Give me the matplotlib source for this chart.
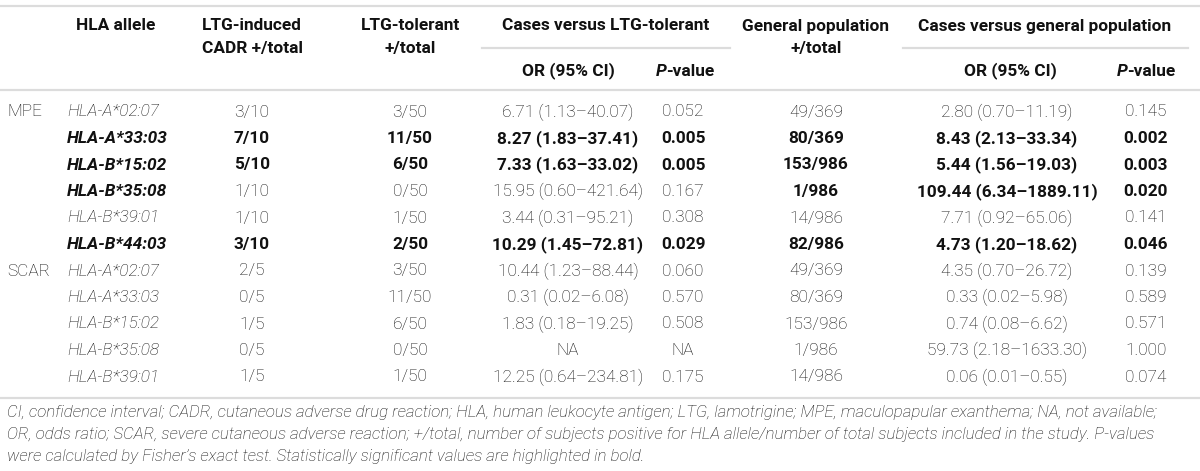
import matplotlib
matplotlib.use("Agg")
import matplotlib.pyplot as plt

plt.rcParams['font.family'] = ['Roboto', 'DejaVu Sans']

# ---- table data ----
groups = ["MPE", "", "", "", "", "", "SCAR", "", "", "", ""]
alleles = ["HLA-A*02:07", "HLA-A*33:03", "HLA-B*15:02", "HLA-B*35:08", "HLA-B*39:01", "HLA-B*44:03",
           "HLA-A*02:07", "HLA-A*33:03", "HLA-B*15:02", "HLA-B*35:08", "HLA-B*39:01"]
cadr = ["3/10", "7/10", "5/10", "1/10", "1/10", "3/10", "2/5", "0/5", "1/5", "0/5", "1/5"]
tolerant = ["3/50", "11/50", "6/50", "0/50", "1/50", "2/50", "3/50", "11/50", "6/50", "0/50", "1/50"]
or_tol = ["6.71 (1.13–40.07)", "8.27 (1.83–37.41)", "7.33 (1.63–33.02)", "15.95 (0.60–421.64)",
          "3.44 (0.31–95.21)", "10.29 (1.45–72.81)", "10.44 (1.23–88.44)", "0.31 (0.02–6.08)",
          "1.83 (0.18–19.25)", "NA", "12.25 (0.64–234.81)"]
p_tol = ["0.052", "0.005", "0.005", "0.167", "0.308", "0.029", "0.060", "0.570", "0.508", "NA", "0.175"]
gen_pop = ["49/369", "80/369", "153/986", "1/986", "14/986", "82/986",
           "49/369", "80/369", "153/986", "1/986", "14/986"]
or_gen = ["2.80 (0.70–11.19)", "8.43 (2.13–33.34)", "5.44 (1.56–19.03)", "109.44 (6.34–1889.11)",
          "7.71 (0.92–65.06)", "4.73 (1.20–18.62)", "4.35 (0.70–26.72)", "0.33 (0.02–5.98)",
          "0.74 (0.08–6.62)", "59.73 (2.18–1633.30)", "0.06 (0.01–0.55)"]
p_gen = ["0.145", "0.002", "0.003", "0.020", "0.141", "0.046", "0.139", "0.589", "0.571", "1.000", "0.074"]

# bold cells (allele, cadr, tolerant, or_tol, p_tol, gen_pop, or_gen, p_gen)
bold = [
    [0, 0, 0, 0, 0, 0, 0, 0],
    [1, 1, 1, 1, 1, 1, 1, 1],
    [1, 1, 1, 1, 1, 1, 1, 1],
    [1, 0, 0, 0, 0, 1, 1, 1],
    [0, 0, 0, 0, 0, 0, 0, 0],
    [1, 1, 1, 1, 1, 1, 1, 1],
    [0, 0, 0, 0, 0, 0, 0, 0],
    [0, 0, 0, 0, 0, 0, 0, 0],
    [0, 0, 0, 0, 0, 0, 0, 0],
    [0, 0, 0, 0, 0, 0, 0, 0],
    [0, 0, 0, 0, 0, 0, 0, 0],
]

footnote = [
    "CI, confidence interval; CADR, cutaneous adverse drug reaction; HLA, human leukocyte antigen; "
    "LTG, lamotrigine; MPE, maculopapular exanthema; NA, not available;",
    "OR, odds ratio; SCAR, severe cutaneous adverse reaction; +/total, number of subjects positive for "
    "HLA allele/number of total subjects included in the study. P-values",
    "were calculated by Fisher’s exact test. Statistically significant values are highlighted in bold.",
]

# ---- layout (pixel coordinates, y downward) ----
W, H = 1200, 471
fs = 12.4
fs_note = 12.2
line_col = "#dcdcdc"
txt_col = "#111111"
bold_col = "#111111"

x_group = 7
x_allele = 67
x_cols = [252, 410, 568, 683, 816, 1007, 1146]
row_y0, row_dy = 112, 26.5

fig = plt.figure(figsize=(W / 100, H / 100), dpi=100)
ax = fig.add_axes([0, 0, 1, 1])
ax.set_xlim(0, W)
ax.set_ylim(H, 0)
ax.axis('off')

# rules
ax.plot([0, W], [6, 6], color=line_col, lw=1.6)
ax.plot([0, W], [90, 90], color=line_col, lw=1.6)
ax.plot([0, W], [398, 398], color=line_col, lw=1.6)
ax.plot([482, 730], [48, 48], color=line_col, lw=1.6)
ax.plot([903, 1188], [48, 48], color=line_col, lw=1.6)

# header
hdr = dict(fontsize=fs, fontweight='bold', color=bold_col, va='center', ha='center')
ax.text(116, 26, "HLA allele", **hdr)
ax.text(252, 26, "LTG-induced", **hdr)
ax.text(252, 48, "CADR +/total", **hdr)
ax.text(410, 26, "LTG-tolerant", **hdr)
ax.text(410, 48, "+/total", **hdr)
ax.text(606, 26, "Cases versus LTG-tolerant", **hdr)
ax.text(816, 26, "General population", **hdr)
ax.text(816, 48, "+/total", **hdr)
ax.text(1045, 26, "Cases versus general population", **hdr)
ax.text(568, 71, "OR (95% CI)", **hdr)
ax.text(1010, 71, "OR (95% CI)", **hdr)

# "P-value" with italic P, centred as a whole
renderer = fig.canvas.get_renderer()
for xc in (685, 1146):
    t1 = ax.text(0, 71, "P", fontsize=fs, fontweight='bold', fontstyle='italic',
                 color=bold_col, va='center', ha='left')
    t2 = ax.text(0, 71, "-value", fontsize=fs, fontweight='bold',
                 color=bold_col, va='center', ha='left')
    w1 = t1.get_window_extent(renderer).width
    w2 = t2.get_window_extent(renderer).width
    x0 = xc - (w1 + w2) / 2
    t1.set_x(x0)
    t2.set_x(x0 + w1)

# body rows
for i in range(len(alleles)):
    y = row_y0 + i * row_dy
    if groups[i]:
        ax.text(x_group, y, groups[i], fontsize=fs, fontweight='light', color=txt_col,
                va='center', ha='left')
    b = bold[i]
    ax.text(x_allele, y, alleles[i], fontsize=fs, fontstyle='italic',
            fontweight='bold' if b[0] else 'light',
            color=bold_col if b[0] else txt_col, va='center', ha='left')
    cells = [cadr[i], tolerant[i], or_tol[i], p_tol[i], gen_pop[i], or_gen[i], p_gen[i]]
    for j, (xc, s) in enumerate(zip(x_cols, cells)):
        isb = b[j + 1]
        ax.text(xc, y, s, fontsize=fs, fontweight='bold' if isb else 'light',
                color=bold_col if isb else txt_col, va='center', ha='center')

# footnote
for k, line in enumerate(footnote):
    ax.text(x_group, 413 + k * 22, line, fontsize=fs_note, fontstyle='italic', fontweight='light',
            color=txt_col, va='center', ha='left')

fig.savefig("out.png", dpi=100)
